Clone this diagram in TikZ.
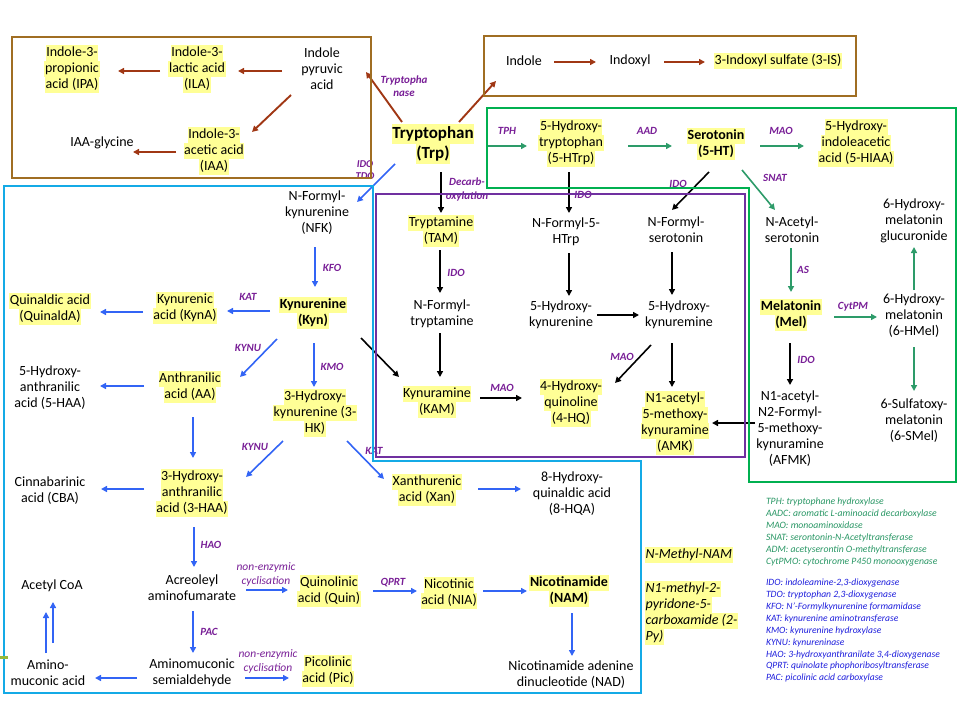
\documentclass[tikz,border=0pt]{standalone}
\usepackage{fontspec}
\setmainfont{Carlito}
\usetikzlibrary{arrows.meta,calc}
\definecolor{hly}{RGB}{255,255,150}
\definecolor{brbox}{RGB}{160,110,35}
\definecolor{brarr}{RGB}{160,55,20}
\definecolor{grbox}{RGB}{0,176,80}
\definecolor{grarr}{RGB}{45,155,105}
\definecolor{blbox}{RGB}{20,170,230}
\definecolor{blarr}{RGB}{50,100,245}
\definecolor{purp}{RGB}{112,48,160}
\definecolor{enz}{RGB}{120,30,150}
\definecolor{legg}{RGB}{40,150,100}
\definecolor{legb}{RGB}{30,30,220}
\definecolor{olive}{RGB}{150,185,60}
\newcommand\hl[1]{{\fboxsep=0pt\colorbox{hly}{\strut\kern0.6pt#1\kern0.6pt}}}
\begin{document}
\begin{tikzpicture}[x=1pt,y=-1pt,
 every node/.style={inner sep=0pt,outer sep=0pt},
 met/.style={align=center,font=\fontsize{14}{16}\selectfont},
 metb/.style={align=center,font=\fontsize{14}{16}\selectfont\bfseries},
 enzl/.style={align=center,text=enz,font=\fontsize{11}{13}\selectfont\bfseries\itshape},
 nonenz/.style={align=center,text=enz,font=\fontsize{11.5}{14}\selectfont\itshape},
 frame/.style={line width=2.6pt},
 arr/.style={line width=1.6pt,-{Triangle[length=6pt,width=6pt]}},
 brA/.style={arr,draw=brarr,line width=1.9pt},
 grA/.style={arr,draw=grarr},
 blA/.style={arr,draw=blarr},
 bkA/.style={arr,draw=black},
 legG/.style={align=left,anchor=north west,text=legg,font=\fontsize{9.7}{12}\selectfont\itshape},
 legB/.style={align=left,anchor=north west,text=legb,font=\fontsize{9.6}{11.9}\selectfont\itshape}
]
\useasboundingbox (0,0) rectangle (960,720);
% ---------------- nodes: brown boxes
\node[met] (ipa) at (72,69) {\hl{Indole-3-}\\\hl{propionic}\\\hl{acid (IPA)}};
\node[met] (ila) at (197,69) {\hl{Indole-3-}\\\hl{lactic acid}\\\hl{(ILA)}};
\node[met] (ipy) at (322,69) {Indole\\pyruvic\\acid};
\node[met] (iaa) at (214,151) {\hl{Indole-3-}\\\hl{acetic acid}\\\hl{(IAA)}};
\node[met] (iaag) at (102,143) {IAA-glycine};
\node[met] (indole) at (524,61) {Indole};
\node[met] (indoxyl) at (630,61) {Indoxyl};
\node[met] (is3) at (778,61) {\hl{3-Indoxyl sulfate (3-IS)}};
% Tryptophan
\node[align=center,font=\fontsize{17}{20}\selectfont\bfseries] (trp) at (433,144) {\hl{Tryptophan}\\\hl{(Trp)}};
% green
\node[met] (hptrp) at (571,143) {\hl{5-Hydroxy-}\\\hl{tryptophan}\\\hl{(5-HTrp)}};
\node[metb] (sero) at (716,144) {\hl{Serotonin}\\\hl{(5-HT)}};
\node[met] (hiaa) at (856,143) {\hl{5-Hydroxy-}\\\hl{indoleacetic}\\\hl{acid (5-HIAA)}};
\node[met] (nas) at (792,230) {N-Acetyl-\\serotonin};
\node[metb] (mel) at (791,315) {\hl{Melatonin}\\\hl{(Mel)}};
\node[met] (hmel) at (914,316) {6-Hydroxy-\\melatonin\\(6-HMel)};
\node[met] (gluc) at (914,221) {6-Hydroxy-\\melatonin\\glucuronide};
\node[met] (smel) at (914,421) {6-Sulfatoxy-\\melatonin\\(6-SMel)};
\node[met] (afmk) at (790,429) {N1-acetyl-\\N2-Formyl-\\5-methoxy-\\kynuramine\\(AFMK)};
% purple
\node[met] (tam) at (441,231) {\hl{Tryptamine}\\\hl{(TAM)}};
\node[met] (nft) at (442,314) {N-Formyl-\\tryptamine};
\node[met] (kam) at (437,402) {\hl{Kynuramine}\\\hl{(KAM)}};
\node[met] (hq) at (571,403) {\hl{4-Hydroxy-}\\\hl{quinoline}\\\hl{(4-HQ)}};
\node[met] (nf5) at (566,232) {N-Formyl-5-\\HTrp};
\node[met] (hk5) at (561,315) {5-Hydroxy-\\kynurenine};
\node[met] (nfs) at (676,230) {N-Formyl-\\serotonin};
\node[met] (hkm) at (679,315) {5-Hydroxy-\\kynuremine};
\node[met] (amk) at (675,423) {\hl{N1-acetyl-}\\\hl{5-methoxy-}\\\hl{kynuramine}\\\hl{(AMK)}};
% blue
\node[met] (nfk) at (317,213) {N-Formyl-\\kynurenine\\(NFK)};
\node[metb] (kyn) at (313,313) {\hl{Kynurenine}\\\hl{(Kyn)}};
\node[met] (kyna) at (185,308) {\hl{Kynurenic}\\\hl{acid (KynA)}};
\node[met] (qa) at (50,309) {\hl{Quinaldic acid}\\\hl{(QuinaldA)}};
\node[met] (aa) at (190,387) {\hl{Anthranilic}\\\hl{acid (AA)}};
\node[met] (haa5) at (50,388) {5-Hydroxy-\\anthranilic\\acid (5-HAA)};
\node[met] (hk3) at (315,413) {\hl{3-Hydroxy-}\\\hl{kynurenine (3-}\\\hl{HK)}};
\node[met] (haa3) at (192,493) {\hl{3-Hydroxy-}\\\hl{anthranilic}\\\hl{acid (3-HAA)}};
\node[met] (cba) at (50,491) {Cinnabarinic\\acid (CBA)};
\node[met] (xan) at (427,490) {\hl{Xanthurenic}\\\hl{acid (Xan)}};
\node[met] (hqa) at (572,494) {8-Hydroxy-\\quinaldic acid\\(8-HQA)};
\node[met] (acr) at (192,588) {Acreoleyl\\aminofumarate};
\node[met] (quin) at (329,591) {\hl{Quinolinic}\\\hl{acid (Quin)}};
\node[met] (nia) at (449,593) {\hl{Nicotinic}\\\hl{acid (NIA)}};
\node[metb] (nam) at (569,591) {\hl{Nicotinamide}\\\hl{(NAM)}};
\node[met] (nad) at (571,675) {Nicotinamide adenine\\dinucleotide (NAD)};
\node[met] (ams) at (192,673) {Aminomuconic\\semialdehyde};
\node[met] (pic) at (328,671) {\hl{Picolinic}\\\hl{acid (Pic)}};
\node[met] (amu) at (48,673) {Amino-\\muconic acid};
\node[met] (acoa) at (52,586) {Acetyl CoA};
\node[met,align=left,anchor=west,font=\fontsize{14}{16}\selectfont\itshape] (nmnam) at (645,555) {\hl{N-Methyl-NAM}};
\node[met,align=left,anchor=north west,font=\fontsize{14}{16}\selectfont\itshape] (py2) at (645,581) {\hl{N1-methyl-2-}\\\hl{pyridone-5-}\\\hl{carboxamide (2-}\\\hl{Py)}};
% enzyme labels
\node[enzl] (e1) at (404,86) {Tryptopha\\nase};
\node[enzl,font=\fontsize{10.5}{12}\selectfont\bfseries\itshape] (e2) at (365,170) {IDO\\TDO};
\node[enzl] (e3) at (507,131) {TPH};
\node[enzl] (e4) at (647,131) {AAD};
\node[enzl] (e5) at (781,131) {MAO};
\node[enzl] (e6) at (775,178) {SNAT};
\node[enzl] (e7) at (803,270) {AS};
\node[enzl] (e8) at (853,307) {CytPM};
\node[enzl] (e9) at (806,360) {IDO};
\node[enzl,font=\fontsize{11}{14}\selectfont\bfseries\itshape] (e10) at (467,190) {Decarb-\\oxylation};
\node[enzl] (e11) at (456,273) {IDO};
\node[enzl] (e12) at (583,195) {IDO};
\node[enzl] (e13) at (678,184) {IDO};
\node[enzl] (e14) at (502,388) {MAO};
\node[enzl] (e15) at (622,357) {MAO};
\node[enzl] (e16) at (332,268) {KFO};
\node[enzl] (e17) at (248,297) {KAT};
\node[enzl] (e18) at (248,348) {KYNU};
\node[enzl] (e19) at (332,367) {KMO};
\node[enzl] (e20) at (255,447) {KYNU};
\node[enzl] (e21) at (374,451) {KAT};
\node[enzl] (e22) at (211,545) {HAO};
\node[enzl] (e23) at (209,632) {PAC};
\node[enzl] (e24) at (393,583) {QPRT};
\node[nonenz] (e25) at (266,574) {non-enzymic\\cyclisation};
\node[nonenz] (e26) at (268,661) {non-enzymic\\cyclisation};
% legends
\node[legG] (lg) at (766,498) {TPH: tryptophane hydroxylase\\AADC: aromatic L-aminoacid decarboxylase\\MAO: monoaminoxidase\\SNAT: serontonin-N-Acetyltransferase\\ADM: acetyserontin O-methyltransferase\\CytPMO: cytochrome P450 monooxygenase};
\node[legB] (lb) at (766,579) {IDO: indoleamine-2,3-dioxygenase\\TDO: tryptophan 2,3-dioxygenase\\KFO: N'-Formylkynurenine formamidase\\KAT: kynurenine aminotransferase\\KMO: kynurenine hydroxylase\\KYNU: kynureninase\\HAO: 3-hydroxyanthranilate 3,4-dioxygenase\\QPRT: quinolate phophoribosyltransferase\\PAC: picolinic acid carboxylase};
% ---------------- arrows
% brown
\draw[brA] ($(ipy)+(-40,2)$) -- ($(ila)+(41,2)$);
\draw[brA] ($(ila)+(-37,2)$) -- ($(ipa)+(46,2)$);
\draw[brA] ($(ipy)+(-31,26)$) -- ($(iaa)+(38,-19)$);
\draw[brA] ($(iaa)+(-38,1)$) -- ($(iaag)+(31,9)$);
\draw[brA] ($(trp)+(-31,-22)$) -- ($(ipy)+(44,3)$);
\draw[brA] ($(trp)+(26,-22)$) -- ($(indole)+(-28,20)$);
\draw[brA] ($(indole)+(30,1)$) -- ($(indoxyl)+(-34,1)$);
\draw[brA] ($(indoxyl)+(34,1)$) -- ($(is3)+(-73,1)$);
% green
\draw[grA] ($(trp)+(54,2)$) -- ($(hptrp)+(-44,3)$);
\draw[grA] ($(hptrp)+(57,3)$) -- ($(sero)+(-44,2)$);
\draw[grA] ($(sero)+(44,2)$) -- ($(hiaa)+(-52,3)$);
\draw[grA] ($(sero)+(26,26)$) -- ($(nas)+(-17,-20)$);
\draw[grA] ($(nas)+(-1,18)$) -- ($(mel)+(0,-23)$);
\draw[grA] ($(mel)+(43,2)$) -- ($(hmel)+(-37,1)$);
\draw[grA] ($(hmel)+(0,-26)$) -- ($(gluc)+(0,26)$);
\draw[grA] ($(hmel)+(0,31)$) -- ($(smel)+(0,-30)$);
% black
\draw[bkA] ($(mel)+(-1,28)$) -- ($(afmk)+(0,-44)$);
\draw[bkA] ($(afmk)+(-35,-6)$) -- ($(amk)+(37,0)$);
\draw[bkA] ($(trp)+(8,28)$) -- ($(tam)+(0,-18)$);
\draw[bkA] ($(tam)+(-1,19)$) -- ($(nft)+(-2,-21)$);
\draw[bkA] ($(nft)+(-2,19)$) -- ($(kam)+(3,-25)$);
\draw[bkA] ($(kam)+(43,-4)$) -- ($(hq)+(-49,-5)$);
\draw[bkA] ($(hptrp)+(-2,29)$) -- ($(nf5)+(3,-19)$);
\draw[bkA] ($(nf5)+(3,21)$) -- ($(hk5)+(8,-19)$);
\draw[bkA] ($(hk5)+(36,0)$) -- ($(hkm)+(-40,0)$);
\draw[bkA] ($(sero)+(-7,28)$) -- ($(nfs)+(-4,-20)$);
\draw[bkA] ($(nfs)+(-4,22)$) -- ($(hkm)+(-7,-20)$);
\draw[bkA] ($(hkm)+(-28,30)$) -- ($(hq)+(44,-20)$);
\draw[bkA] ($(hkm)+(-7,28)$) -- ($(amk)+(-3,-36)$);
\draw[bkA] ($(kyn)+(48,25)$) -- ($(kam)+(-38,-25)$);
% blue
\draw[blA] ($(trp)+(-38,20)$) -- ($(nfk)+(40,-11)$);
\draw[blA] ($(nfk)+(-2,34)$) -- ($(kyn)+(2,-26)$);
\draw[blA] ($(kyn)+(-43,-2)$) -- ($(kyna)+(42,3)$);
\draw[blA] ($(kyna)+(-42,4)$) -- ($(qa)+(50,3)$);
\draw[blA] ($(kyn)+(-36,26)$) -- ($(aa)+(50,-10)$);
\draw[blA] ($(kyn)+(1,30)$) -- ($(hk3)+(-1,-26)$);
\draw[blA] ($(aa)+(-46,-1)$) -- ($(haa5)+(50,-2)$);
\draw[blA] ($(aa)+(3,30)$) -- ($(haa3)+(1,-35)$);
\draw[blA] ($(hk3)+(-32,28)$) -- ($(haa3)+(54,-16)$);
\draw[blA] ($(hk3)+(32,28)$) -- ($(xan)+(-43,-11)$);
\draw[blA] ($(xan)+(51,-1)$) -- ($(hqa)+(-51,-5)$);
\draw[blA] ($(haa3)+(-48,-4)$) -- ($(cba)+(51,-2)$);
\draw[blA] ($(haa3)+(2,34)$) -- ($(acr)+(2,-21)$);
\draw[blA] ($(acr)+(54,2)$) -- ($(quin)+(-41,-1)$);
\draw[blA] ($(quin)+(44,0)$) -- ($(nia)+(-32,-2)$);
\draw[blA] ($(nia)+(34,-2)$) -- ($(nam)+(-42,0)$);
\draw[blA] ($(nam)+(3,22)$) -- ($(nad)+(1,-19)$);
\draw[blA] ($(acr)+(1,23)$) -- ($(ams)+(1,-20)$);
\draw[blA] ($(ams)+(53,5)$) -- ($(pic)+(-39,7)$);
\draw[blA] ($(ams)+(-55,5)$) -- ($(amu)+(47,5)$);
\draw[blA] ($(amu)+(-2,-20)$) -- ($(acoa)+(-6,26)$);
\draw[blA] ($(amu)+(5,-30)$) -- ($(acoa)+(1,16)$);
% ---------------- frames
\draw[frame,brbox] (12,37) rectangle (371,178);
\draw[frame,brbox] (484,36) rectangle (856,96);
\draw[frame,grbox] (487,108) -- (956,108) -- (956,482) -- (749,482) -- (749,188) -- (487,188) -- cycle;
\draw[frame,blbox] (4,186) -- (373,186) -- (373,461) -- (641,461) -- (641,693) -- (4,693) -- cycle;
\draw[frame,purp] (376,194) rectangle (745,457);
\draw[olive,line width=3pt] (0,657) -- (8,657);
\end{tikzpicture}
\end{document}
